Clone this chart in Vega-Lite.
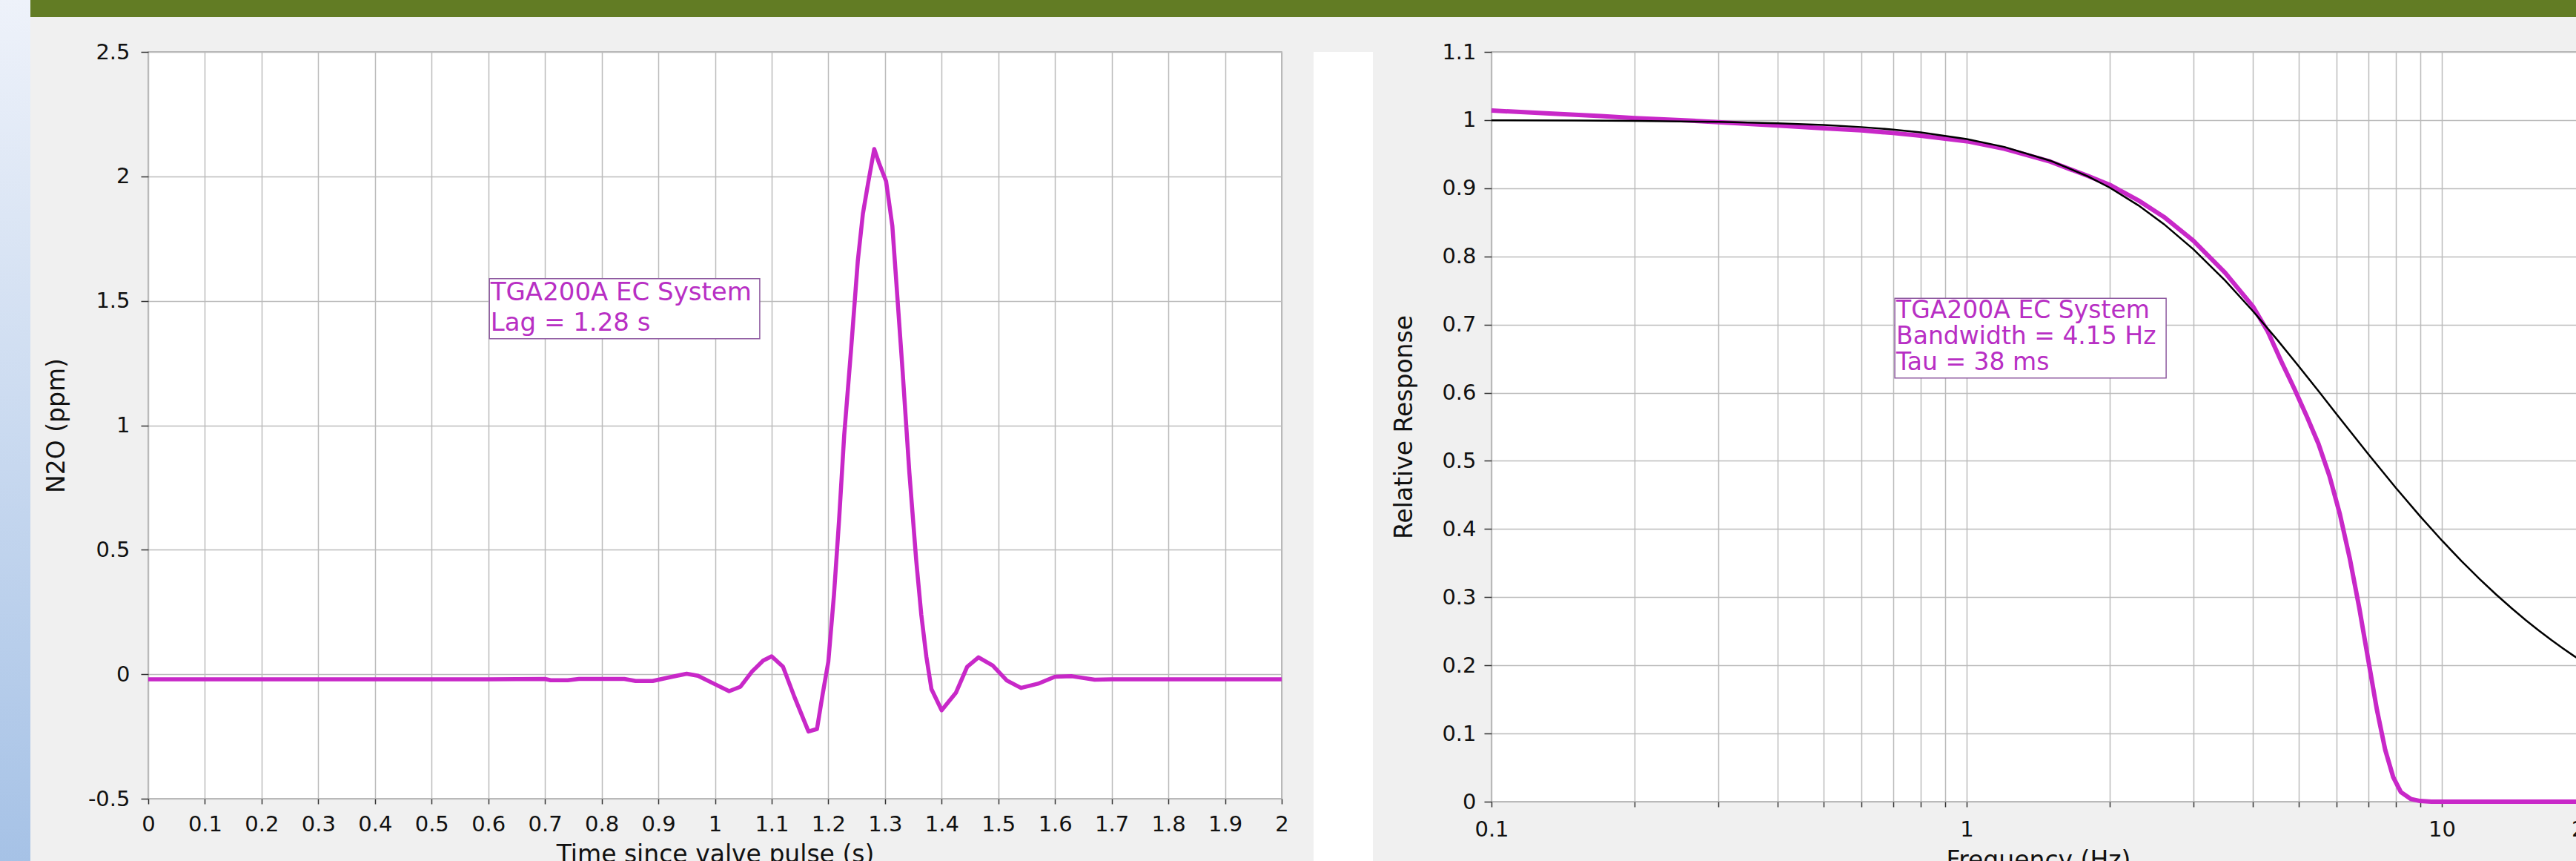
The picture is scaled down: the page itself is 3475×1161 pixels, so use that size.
{
  "$schema": "https://vega.github.io/schema/vega-lite/v6.json",
  "background": "#f0f0f0",
  "padding": 0,
  "spacing": 0,
  "config": {
    "font": "DejaVu Sans",
    "view": {"stroke": null},
    "axis": {
      "domain": false, "grid": true, "gridColor": "#bbbbbb", "gridWidth": 1.5,
      "tickColor": "#333333", "tickWidth": 1.5,
      "labelFont": "DejaVu Sans", "labelFontSize": 29, "labelColor": "#111111",
      "titleFont": "DejaVu Sans", "titleFontSize": 33, "titleFontWeight": "normal", "titleColor": "#111111",
      "labelOverlap": false, "labelBound": false, "labelFlush": false
    }
  },
  "datasets": {
    "impulse": [
      {"t":0,"v":-0.02},{"t":0.1,"v":-0.02},{"t":0.2,"v":-0.02},{"t":0.3,"v":-0.02},{"t":0.4,"v":-0.02},{"t":0.5,"v":-0.02},{"t":0.6,"v":-0.02},
      {"t":0.7,"v":-0.019},{"t":0.71,"v":-0.024},{"t":0.74,"v":-0.024},{"t":0.76,"v":-0.019},{"t":0.84,"v":-0.019},{"t":0.86,"v":-0.027},{"t":0.89,"v":-0.027},
      {"t":0.92,"v":-0.012},{"t":0.95,"v":0.002},{"t":0.97,"v":-0.006},{"t":1.0,"v":-0.04},{"t":1.025,"v":-0.068},{"t":1.045,"v":-0.05},{"t":1.065,"v":0.01},
      {"t":1.085,"v":0.055},{"t":1.1,"v":0.072},{"t":1.12,"v":0.03},{"t":1.14,"v":-0.09},{"t":1.165,"v":-0.23},{"t":1.18,"v":-0.22},{"t":1.19,"v":-0.08},
      {"t":1.2,"v":0.05},{"t":1.21,"v":0.32},{"t":1.219,"v":0.62},{"t":1.228,"v":0.96},{"t":1.24,"v":1.3},{"t":1.252,"v":1.66},{"t":1.261,"v":1.85},
      {"t":1.27,"v":1.97},{"t":1.281,"v":2.11},{"t":1.29,"v":2.05},{"t":1.302,"v":1.98},{"t":1.313,"v":1.8},{"t":1.322,"v":1.51},{"t":1.331,"v":1.22},
      {"t":1.343,"v":0.81},{"t":1.355,"v":0.46},{"t":1.364,"v":0.24},{"t":1.373,"v":0.07},{"t":1.382,"v":-0.06},{"t":1.4,"v":-0.145},{"t":1.425,"v":-0.075},
      {"t":1.445,"v":0.03},{"t":1.465,"v":0.068},{"t":1.49,"v":0.035},{"t":1.515,"v":-0.025},{"t":1.54,"v":-0.055},{"t":1.57,"v":-0.038},{"t":1.6,"v":-0.01},
      {"t":1.63,"v":-0.008},{"t":1.67,"v":-0.022},{"t":1.7,"v":-0.02},{"t":1.8,"v":-0.02},{"t":1.9,"v":-0.02},{"t":2.0,"v":-0.02}
    ],
    "boxL": [{"t":0.602,"t2":1.079,"v":1.348,"v2":1.589}],
    "textL": [{"t":0.604,"v":1.501,"label":"TGA200A EC System"},{"t":0.604,"v":1.381,"label":"Lag = 1.28 s"}],
    "measured": [
      {"f":0.1,"r":1.014},{"f":0.13,"r":1.01},{"f":0.17,"r":1.006},{"f":0.2,"r":1.003},{"f":0.25,"r":1.0},{"f":0.3,"r":0.997},{"f":0.4,"r":0.992},
      {"f":0.5,"r":0.988},{"f":0.6,"r":0.985},{"f":0.7,"r":0.981},{"f":0.8,"r":0.977},{"f":1.0,"r":0.969},{"f":1.2,"r":0.958},{"f":1.5,"r":0.939},
      {"f":1.8,"r":0.918},{"f":2.0,"r":0.905},{"f":2.3,"r":0.882},{"f":2.6,"r":0.858},{"f":3.0,"r":0.823},{"f":3.5,"r":0.776},{"f":4.0,"r":0.727},
      {"f":4.3,"r":0.69},{"f":4.6,"r":0.645},{"f":4.9,"r":0.605},{"f":5.2,"r":0.565},{"f":5.5,"r":0.525},{"f":5.8,"r":0.478},{"f":6.1,"r":0.422},
      {"f":6.4,"r":0.357},{"f":6.7,"r":0.285},{"f":7.0,"r":0.208},{"f":7.3,"r":0.135},{"f":7.6,"r":0.076},{"f":7.9,"r":0.036},{"f":8.2,"r":0.014},
      {"f":8.6,"r":0.004},{"f":9.0,"r":0.001},{"f":9.5,"r":0.0},{"f":12,"r":0.0},{"f":20,"r":0.0}
    ],
    "model": [
      {"f":0.1,"r":0.9997},{"f":0.15,"r":0.9993},{"f":0.2,"r":0.9988},{"f":0.3,"r":0.9974},{"f":0.4,"r":0.9954},{"f":0.5,"r":0.9928},{"f":0.6,"r":0.9897},
      {"f":0.7,"r":0.9861},{"f":0.8,"r":0.9819},{"f":1.0,"r":0.9722},{"f":1.2,"r":0.9606},{"f":1.5,"r":0.9404},{"f":1.8,"r":0.9174},{"f":2.0,"r":0.9009},
      {"f":2.3,"r":0.8747},{"f":2.6,"r":0.8474},{"f":3.0,"r":0.8104},{"f":3.5,"r":0.7645},{"f":4.0,"r":0.72},{"f":4.5,"r":0.678},{"f":5.0,"r":0.6387},
      {"f":5.5,"r":0.6024},{"f":6.0,"r":0.5688},{"f":7.0,"r":0.51},{"f":8.0,"r":0.4605},{"f":9.0,"r":0.4188},{"f":10,"r":0.3833},{"f":11,"r":0.353},
      {"f":12,"r":0.3268},{"f":13,"r":0.3041},{"f":14,"r":0.2842},{"f":15,"r":0.2666},{"f":16,"r":0.2511},{"f":17,"r":0.2372},{"f":18,"r":0.2247},
      {"f":19,"r":0.2134},{"f":20,"r":0.2032}
    ],
    "boxR": [{"f":0.706,"f2":2.629,"r":0.6215,"r2":0.7385}],
    "textR": [{"f":0.711,"r":0.7096,"label":"TGA200A EC System"},{"f":0.711,"r":0.6708,"label":"Bandwidth = 4.15 Hz"},{"f":0.711,"r":0.6334,"label":"Tau = 38 ms"}]
  },
  "hconcat": [
    {
      "width": 41, "height": 1161,
      "view": {"fill": {"gradient": "linear", "x1": 0, "y1": 0, "x2": 0, "y2": 1, "stops": [{"offset": 0, "color": "#eef2fa"}, {"offset": 1, "color": "#a6c2e6"}]}, "stroke": null},
      "data": {"values": [{}]}, "mark": "text", "encoding": {"text": {"value": ""}}
    },
    {
      "spacing": 32,
      "vconcat": [
        {
          "width": 3434, "height": 23,
          "view": {"fill": "#627c24", "stroke": null},
          "data": {"values": [{}]}, "mark": "text", "encoding": {"text": {"value": ""}}
        },
        {
          "spacing": 0,
          "hconcat": [
            {
              "width": 18, "height": 1, "view": {"fill": "#f0f0f0", "stroke": null},
              "data": {"values": [{}]}, "mark": "text", "encoding": {"text": {"value": ""}}
            },
            {
              "width": 1529, "height": 1007,
              "view": {"fill": "#ffffff", "stroke": "#a0a0a0", "strokeWidth": 1.5},
              "layer": [
                {
                  "data": {"name": "boxL"},
                  "mark": {"type": "rect", "fill": "#ffffff", "stroke": "#8e5aa0", "strokeWidth": 1.5},
                  "encoding": {
                    "x": {"field": "t", "type": "quantitative"}, "x2": {"field": "t2"},
                    "y": {"field": "v", "type": "quantitative"}, "y2": {"field": "v2"}
                  }
                },
                {
                  "data": {"name": "textL"},
                  "mark": {"type": "text", "align": "left", "baseline": "alphabetic", "fontSize": 34, "color": "#b82fc4"},
                  "encoding": {
                    "x": {"field": "t", "type": "quantitative"},
                    "y": {"field": "v", "type": "quantitative"},
                    "text": {"field": "label"}
                  }
                },
                {
                  "data": {"name": "impulse"},
                  "mark": {"type": "line", "color": "#c828c8", "strokeWidth": 5.5, "strokeJoin": "round"},
                  "encoding": {
                    "x": {"field": "t", "type": "quantitative",
                      "scale": {"domain": [0, 2], "nice": false, "zero": false},
                      "axis": {"title": "Time since valve pulse (s)", "values": [0,0.1,0.2,0.3,0.4,0.5,0.6,0.7,0.8,0.9,1,1.1,1.2,1.3,1.4,1.5,1.6,1.7,1.8,1.9,2],
                        "format": "~g", "tickSize": 7, "labelPadding": 13, "titlePadding": 10}},
                    "y": {"field": "v", "type": "quantitative",
                      "scale": {"domain": [-0.5, 2.5], "nice": false, "zero": false},
                      "axis": {"title": "N2O (ppm)", "values": [-0.5,0,0.5,1,1.5,2,2.5], "format": "~g",
                        "labelExpr": "replace(datum.label, '\u2212', '-')",
                        "tickSize": 10, "labelPadding": 15, "minExtent": 82, "maxExtent": 82, "titlePadding": 25}}
                  }
                }
              ]
            },
            {
              "width": 33, "height": 1, "view": {"fill": "#f0f0f0", "stroke": null},
              "data": {"values": [{}]}, "mark": "text", "encoding": {"text": {"value": ""}}
            },
            {
              "width": 80, "height": 1120, "view": {"fill": "#ffffff", "stroke": null},
              "data": {"values": [{}]}, "mark": "text", "encoding": {"text": {"value": ""}}
            },
            {
              "width": 25, "height": 1, "view": {"fill": "#f0f0f0", "stroke": null},
              "data": {"values": [{}]}, "mark": "text", "encoding": {"text": {"value": ""}}
            },
            {
              "width": 1475, "height": 1011,
              "view": {"fill": "#ffffff", "stroke": "#a0a0a0", "strokeWidth": 1.5},
              "layer": [
                {
                  "data": {"name": "boxR"},
                  "mark": {"type": "rect", "fill": "#ffffff", "stroke": "#8e5aa0", "strokeWidth": 1.5},
                  "encoding": {
                    "x": {"field": "f", "type": "quantitative"}, "x2": {"field": "f2"},
                    "y": {"field": "r", "type": "quantitative"}, "y2": {"field": "r2"}
                  }
                },
                {
                  "data": {"name": "textR"},
                  "mark": {"type": "text", "align": "left", "baseline": "alphabetic", "fontSize": 33, "color": "#b82fc4"},
                  "encoding": {
                    "x": {"field": "f", "type": "quantitative"},
                    "y": {"field": "r", "type": "quantitative"},
                    "text": {"field": "label"}
                  }
                },
                {
                  "data": {"name": "measured"},
                  "mark": {"type": "line", "color": "#c828c8", "strokeWidth": 6, "strokeJoin": "round"},
                  "encoding": {
                    "x": {"field": "f", "type": "quantitative",
                      "scale": {"type": "log", "domain": [0.1, 20], "nice": false},
                      "axis": {"title": "Frequency (Hz)",
                        "values": [0.1,0.2,0.3,0.4,0.5,0.6,0.7,0.8,0.9,1,2,3,4,5,6,7,8,9,10,20],
                        "format": "~g",
                        "labelExpr": "(datum.value == 0.1 || datum.value == 1 || datum.value == 10 || datum.value == 20) ? datum.label : ''",
                        "tickSize": 7, "labelPadding": 16, "titlePadding": 11}},
                    "y": {"field": "r", "type": "quantitative",
                      "scale": {"domain": [0, 1.1], "nice": false, "zero": false},
                      "axis": {"title": "Relative Response", "values": [0,0.1,0.2,0.3,0.4,0.5,0.6,0.7,0.8,0.9,1,1.1], "format": "~g",
                        "tickSize": 10, "labelPadding": 11, "minExtent": 67, "maxExtent": 67, "titlePadding": 34}}
                  }
                },
                {
                  "data": {"name": "model"},
                  "mark": {"type": "line", "color": "#000000", "strokeWidth": 2.5},
                  "encoding": {
                    "x": {"field": "f", "type": "quantitative"},
                    "y": {"field": "r", "type": "quantitative"}
                  }
                }
              ]
            }
          ]
        }
      ]
    }
  ]
}
